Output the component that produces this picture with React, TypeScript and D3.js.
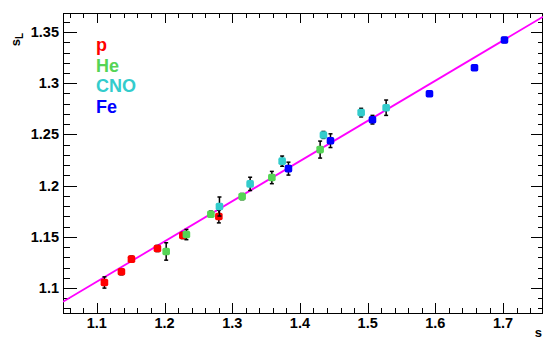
import React from "react";
import * as d3 from "d3";

const pX = [1.1112, 1.1363, 1.1511, 1.1895, 1.227, 1.2802];
const pY = [1.1054, 1.1159, 1.1282, 1.1386, 1.1513, 1.1698];
const pErr = [0.0055, 0.003, 0.003, 0.003, 0.003, 0.0062];

const heX = [1.2024, 1.2323, 1.2684, 1.3146, 1.3585, 1.4298];
const heY = [1.1357, 1.1522, 1.1721, 1.1893, 1.2079, 1.2352];
const heErr = [0.0085, 0.005, 0.003, 0.003, 0.006, 0.0083];

const cnoX = [1.2811, 1.3264, 1.3737, 1.4347, 1.4904, 1.5273];
const cnoY = [1.1796, 1.2017, 1.2239, 1.2495, 1.2713, 1.2761];
const cnoErr = [0.0093, 0.0065, 0.005, 0.0034, 0.0042, 0.0075];

const feX = [1.383, 1.4451, 1.5071, 1.5913, 1.6578, 1.7021];
const feY = [1.2166, 1.2439, 1.2644, 1.2898, 1.3152, 1.3422];
const feErr = [0.0063, 0.0067, 0.0042, 0.0025, 0.0025, 0.0025];

const seriesNames = ["p", "He", "CNO", "Fe"];
const seriesColors = ["#ff0000", "#55d455", "#33cccc", "#0000ff"];

const xTickLabels = ["1.1", "1.2", "1.3", "1.4", "1.5", "1.6", "1.7"];
const yTickLabels = ["1.1", "1.15", "1.2", "1.25", "1.3", "1.35"];

const fitA = 0.6745;
const fitB = 0.3925;

const W = 544;
const H = 340;
const L = 63;
const R = 543;
const T = 13;
const B = 313;

export default function App() {
  const x = d3.scaleLinear().domain([1.05, 1.759]).range([L, R]);
  const y = d3.scaleLinear().domain([1.0756, 1.3686]).range([B, T]);

  const xs = [pX, heX, cnoX, feX];
  const ys = [pY, heY, cnoY, feY];
  const es = [pErr, heErr, cnoErr, feErr];

  const xMinor = d3.range(1.06, 1.7601, 0.02);
  const yMinor = d3.range(1.08, 1.3601, 0.01);
  const xMajor = xTickLabels.map(Number);
  const yMajor = yTickLabels.map(Number);

  const font = "'Liberation Sans', Arial, Helvetica, sans-serif";

  const lineX0 = 1.05;
  const lineX1 = 1.759;

  return (
    <svg width={W} height={H} style={{ position: "absolute", left: 0, top: 0, background: "#fff" }}>
      <defs>
        <clipPath id="frame">
          <rect x={L} y={T} width={R - L} height={B - T} />
        </clipPath>
      </defs>
      <rect x={0} y={0} width={W} height={H} fill="#fff" />
      {/* ticks */}
      <g stroke="#000" strokeWidth={1}>
        {xMinor.map((v, i) => {
          const major = xMajor.some((m) => Math.abs(m - v) < 1e-6);
          const len = major ? 10 : 5;
          const px = Math.round(x(v)) + 0.5;
          return (
            <g key={"xt" + i}>
              <line x1={px} x2={px} y1={B} y2={B - len} />
              <line x1={px} x2={px} y1={T} y2={T + len} />
            </g>
          );
        })}
        {yMinor.map((v, i) => {
          const major = yMajor.some((m) => Math.abs(m - v) < 1e-6);
          const px = Math.round(y(v)) + 0.5;
          return (
            <g key={"yt" + i}>
              <line x1={L} x2={L + (major ? 14 : 7)} y1={px} y2={px} />
              <line x1={R} x2={R - (major ? 12 : 5)} y1={px} y2={px} />
            </g>
          );
        })}
      </g>
      <rect x={L + 0.5} y={T + 0.5} width={R - L - 1} height={B - T} fill="none" stroke="#000" strokeWidth={1} />
      {/* tick labels */}
      <g fontFamily={font} fontWeight="bold" fontSize={14.5} fill="#000">
        {xMajor.map((v, i) => (
          <text key={"xl" + i} x={x(v)} y={328} textAnchor="middle">
            {xTickLabels[i]}
          </text>
        ))}
        {yMajor.map((v, i) => (
          <text key={"yl" + i} x={59} y={y(v) + 5} textAnchor="end">
            {yTickLabels[i]}
          </text>
        ))}
      </g>
      {/* axis titles */}
      <text x={542} y={337} textAnchor="end" fontFamily={font} fontWeight="bold" fontSize={13}>
        s
      </text>
      <text
        transform="translate(20,33) rotate(-90)"
        textAnchor="end"
        fontFamily={font}
        fontWeight="bold"
        fontSize={13}
      >
        s<tspan fontSize={10} dy={3}>L</tspan>
      </text>
      {/* fit line */}
      <g clipPath="url(#frame)">
        <line
          x1={x(lineX0)}
          y1={y(fitA + fitB * lineX0)}
          x2={x(lineX1)}
          y2={y(fitA + fitB * lineX1)}
          stroke="#ff00ff"
          strokeWidth={1.8}
        />
      </g>
      {/* data */}
      {xs.map((sx, si) => (
        <g key={"s" + si}>
          {sx.map((xv, i) => {
            const cx = x(xv);
            const cy = y(ys[si][i]);
            const top = y(ys[si][i] + es[si][i]);
            const bot = y(ys[si][i] - es[si][i]);
            return (
              <g key={i}>
                <line x1={cx} x2={cx} y1={top} y2={bot} stroke="#000" strokeWidth={1.5} />
                <line x1={cx - 2} x2={cx + 2} y1={top} y2={top} stroke="#000" strokeWidth={1.5} />
                <line x1={cx - 2} x2={cx + 2} y1={bot} y2={bot} stroke="#000" strokeWidth={1.5} />
                <rect x={cx - 3.8} y={cy - 3.8} width={7.6} height={7.6} rx={1.8} fill={seriesColors[si]} />
              </g>
            );
          })}
        </g>
      ))}
      {/* legend */}
      <g fontFamily={font} fontWeight="bold" fontSize={18}>
        {seriesNames.map((n, i) => (
          <text key={n} x={96} y={51 + i * 20.5} fill={seriesColors[i]}>
            {n}
          </text>
        ))}
      </g>
    </svg>
  );
}
